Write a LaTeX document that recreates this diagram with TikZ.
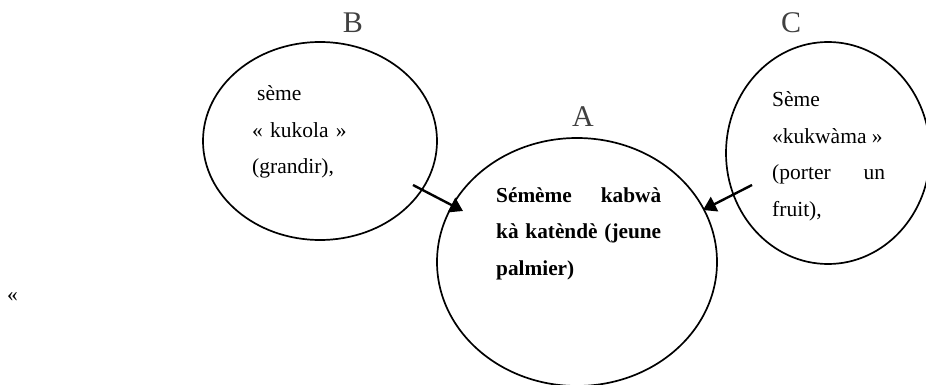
\documentclass[tikz,border=0pt]{standalone}
\usepackage{fontspec}
\setmainfont{Liberation Serif}
\usetikzlibrary{arrows.meta}

\begin{document}
\begin{tikzpicture}[x=1pt,y=-1pt,
  txt/.style={anchor=base west,inner sep=0pt,font=\fontsize{21.5}{36.5}\selectfont},
  lbl/.style={anchor=base,inner sep=0pt,text=black!75,font=\fontsize{30}{30}\selectfont},
  sem/.style={line width=1.7pt},
  fleche/.style={line width=2.4pt,-{Triangle[length=13pt,width=16pt]}}]
  \useasboundingbox (0,0) rectangle (926,385);
  \coordinate (A) at (577,262);
  \coordinate (B) at (320,141);
  \coordinate (C) at (828,153);
  \draw [sem](A) ellipse[x radius=140pt,y radius=124pt];
  \draw [sem](B) ellipse[x radius=117pt,y radius=99pt];
  \draw [sem](C) ellipse[x radius=102pt,y radius=111pt];
  \node [lbl](labA) at (583,127) {A};
  \node [lbl](labB) at (353,33) {B};
  \node [lbl](labC) at (791,33) {C};
  % contenu des cercles
  \node [txt,text width=150pt,align=left](semB) at (252,101)
    {\hspace*{5pt}sème\\ « kukola »\\ (grandir),};
  \node [txt,text width=165pt,align=justify,font=\fontsize{21.3}{36.5}\selectfont\bfseries](semA) at (496,202)
    {Sémème kabwà\linebreak kà katèndè (jeune\linebreak palmier)};
  \node [txt,text width=113pt,align=justify](semC) at (772,107)
    {Sème\\ «kukwàma »\\ (porter un\linebreak fruit),};
  \node [txt](guil) at (7,301) {«};
  % fleches vers A
  \coordinate (Bout) at (413,185);
  \coordinate (Bin) at (463,211);
  \coordinate (Cout) at (752,185);
  \coordinate (Cin) at (703,210);
  \draw [fleche](Bout)--(Bin);
  \draw [fleche](Cout)--(Cin);
\end{tikzpicture}
\end{document}
